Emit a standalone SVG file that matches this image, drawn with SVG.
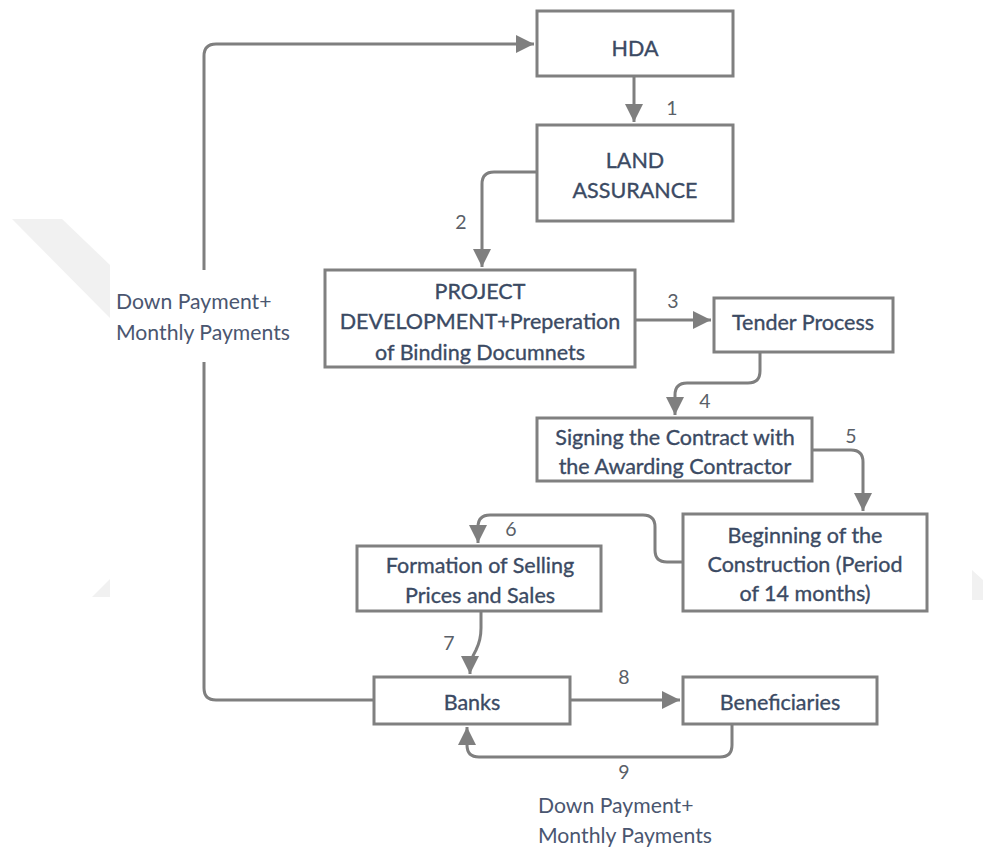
<svg xmlns="http://www.w3.org/2000/svg" width="983" height="847" viewBox="0 0 983 847">
<defs>
<marker id="ah" viewBox="0 0 10 10" refX="10" refY="5" markerWidth="6" markerHeight="6" orient="auto" markerUnits="strokeWidth">
<path d="M0,0 L10,5 L0,10 Z" fill="#7f7f7f"/>
</marker>
<style>
.box{fill:#ffffff;stroke:#808080;stroke-width:3}
.t{font-family:Lato,"Liberation Sans",sans-serif;font-size:21.5px;fill:#3b4a63;stroke:#3b4a63;stroke-width:0.35;text-anchor:middle}
.n{font-family:Lato,"Liberation Sans",sans-serif;font-size:19.5px;fill:#5a5f68;text-anchor:middle}
.l{font-family:Lato,"Liberation Sans",sans-serif;font-size:21.2px;fill:#4a5670}
.c{fill:none;stroke:#7f7f7f;stroke-width:3;marker-end:url(#ah)}
.c0{fill:none;stroke:#7f7f7f;stroke-width:3}
.wm{fill:#f1f1f1}
</style>
</defs>
<rect width="983" height="847" fill="#ffffff"/>
<g id="watermark">
<polygon class="wm" points="12,219 62,219 110,265 110,318"/>
<polygon class="wm" points="92,597 110,579 110,597"/>
<polygon class="wm" points="972,570 983,580 983,600 972,600"/>
</g>
<g id="connectors">
<path class="c" d="M634,77 V122"/>
<path class="c" d="M537,172 H494 Q482,172 482,184 V267"/>
<path class="c" d="M635,320 H711"/>
<path class="c" d="M760,352 V371 Q760,383 748,383 H687 Q675,383 675,395 V415"/>
<path class="c" d="M812,450 H851 Q863,450 863,462 V511"/>
<path class="c" d="M683,562 H667 Q655,562 655,550 V527 Q655,515 643,515 H490 Q478,515 478,527 V543"/>
<path class="c" d="M481,611 V628 Q481,640 476,650 Q470,660 470,672 V674"/>
<path class="c" d="M570,700 H680"/>
<path class="c" d="M732,724 V745 Q732,757 720,757 H479 Q467,757 467,745 V727"/>
<path class="c0" d="M374,700 H216 Q204,700 204,688 V362"/>
<path class="c" d="M204,270 V56 Q204,44 216,44 H534"/>
</g>
<g id="labels">
<text class="n" x="672" y="115">1</text>
<text class="n" x="461" y="229">2</text>
<text class="n" x="673" y="308">3</text>
<text class="n" x="705" y="408">4</text>
<text class="n" x="851" y="443">5</text>
<text class="n" x="511" y="536">6</text>
<text class="n" x="449" y="650">7</text>
<text class="n" x="624" y="684">8</text>
<text class="n" x="624" y="779">9</text>
<text class="l" x="116" y="309">Down Payment+</text>
<text class="l" x="116" y="340">Monthly Payments</text>
<text class="l" x="538" y="813">Down Payment+</text>
<text class="l" x="538" y="843">Monthly Payments</text>
</g>
<g id="hda">
<rect class="box" x="537" y="11" width="196" height="65"/>
<text class="t" x="635" y="56">HDA</text>
</g>
<g id="land">
<rect class="box" x="537" y="125" width="196" height="96"/>
<text class="t" x="635" y="168">LAND</text>
<text class="t" x="635" y="198">ASSURANCE</text>
</g>
<g id="project">
<rect class="box" x="325" y="270" width="310" height="97"/>
<text class="t" x="480" y="299">PROJECT</text>
<text class="t" x="480" y="329">DEVELOPMENT+Preperation</text>
<text class="t" x="480" y="360">of Binding Documnets</text>
</g>
<g id="tender">
<rect class="box" x="714" y="298" width="179" height="54"/>
<text class="t" x="803" y="330">Tender Process</text>
</g>
<g id="signing">
<rect class="box" x="537" y="418" width="275" height="63"/>
<text class="t" x="675" y="445">Signing the Contract with</text>
<text class="t" x="675" y="474">the Awarding Contractor</text>
</g>
<g id="beginning">
<rect class="box" x="683" y="514" width="244" height="97"/>
<text class="t" x="805" y="543">Beginning of the</text>
<text class="t" x="805" y="572">Construction (Period</text>
<text class="t" x="805" y="601">of 14 months)</text>
</g>
<g id="formation">
<rect class="box" x="357" y="546" width="244" height="65"/>
<text class="t" x="480" y="573">Formation of Selling</text>
<text class="t" x="480" y="603">Prices and Sales</text>
</g>
<g id="banks">
<rect class="box" x="374" y="677" width="196" height="47"/>
<text class="t" x="472" y="710">Banks</text>
</g>
<g id="beneficiaries">
<rect class="box" x="683" y="677" width="194" height="47"/>
<text class="t" x="780" y="710">Beneficiaries</text>
</g>
</svg>
